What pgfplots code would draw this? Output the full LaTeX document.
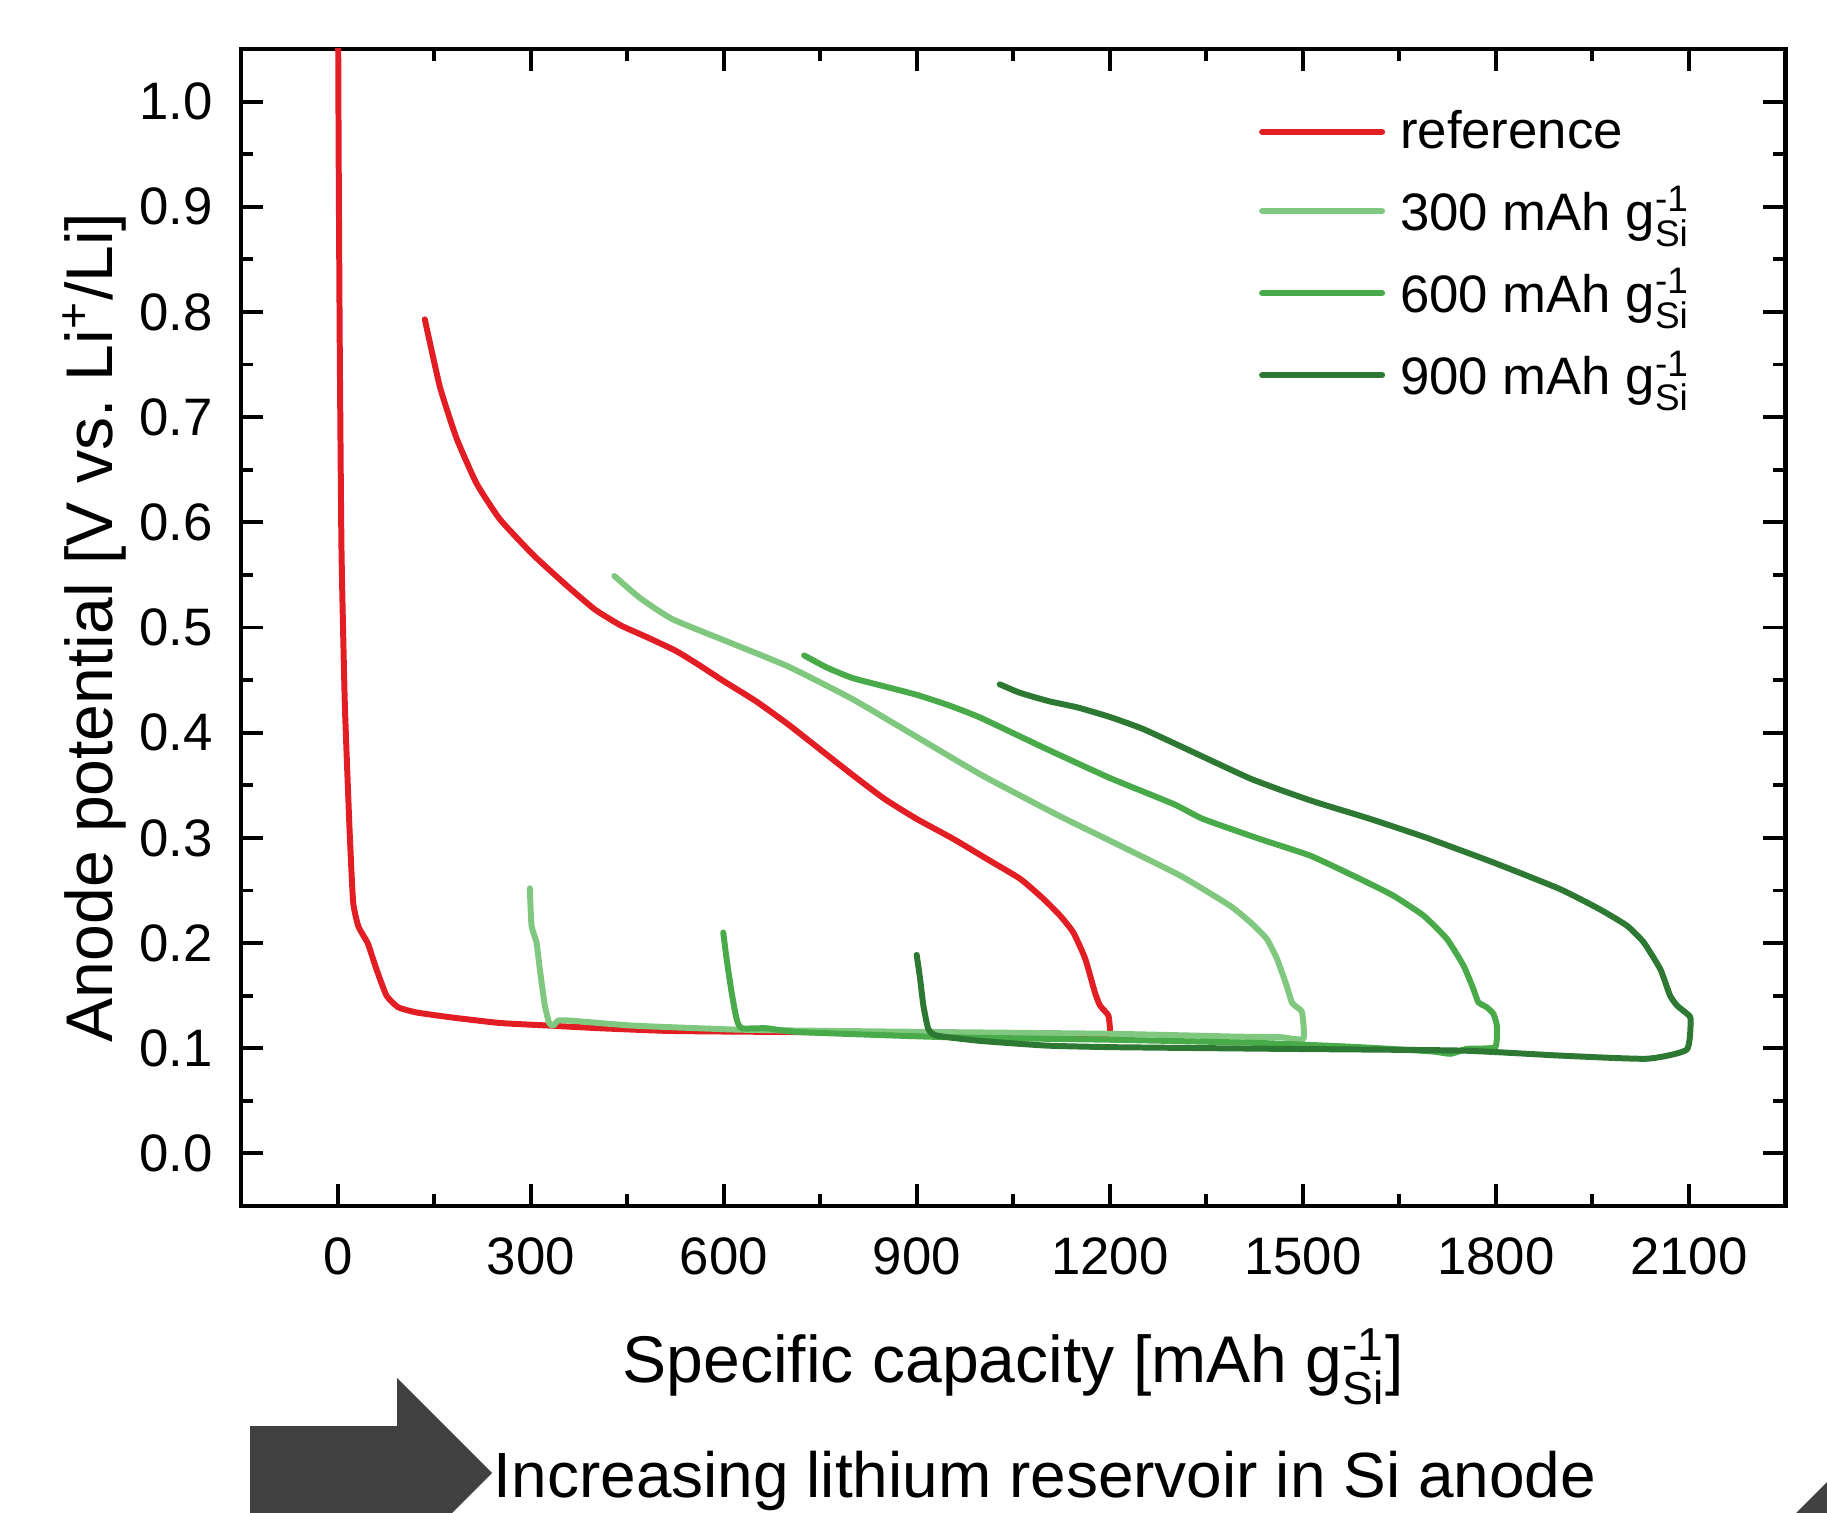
\documentclass[border=0pt]{standalone}
\usepackage{fontspec}
\setmainfont{Liberation Sans}
\usepackage{amsmath}
\usepackage{pgfplots}
\pgfplotsset{compat=1.18}

\definecolor{refred}{RGB}{226,30,36}
\definecolor{lgreen}{RGB}{128,200,128}
\definecolor{mgreen}{RGB}{72,170,72}
\definecolor{dgreen}{RGB}{45,120,50}
\definecolor{arrowgray}{RGB}{64,64,64}

\newcommand{\gsi}{g$^{\text{-1}}_{\text{Si}}$}

\begin{document}
\begin{tikzpicture}
\path[use as bounding box] (-2.412,-3.06) rectangle (15.858,12.06);
\clip (-2.412,-3.06) rectangle (15.858,12.06);

% arrow and caption below the plot
\fill[arrowgray] (0.09,-3.3) -- (0.09,-2.20) -- (1.56,-2.20) -- (1.56,-1.72)
  -- (2.51,-2.67) -- (1.56,-3.62) -- (1.56,-3.3) -- cycle;
\fill[arrowgray] (15.50,-3.12) -- (15.92,-2.70) -- (15.92,-3.12) -- cycle;
\node[anchor=base west, inner sep=0pt, font=\fontsize{18.2}{22}\selectfont]
  at (2.52,-2.91) {Increasing lithium reservoir in Si anode};

\begin{axis}[
  at={(0,0)}, anchor=south west,
  scale only axis,
  width=15.44cm, height=11.57cm,
  xmin=-150, xmax=2250,
  ymin=-0.05, ymax=1.05,
  xtick={0,300,...,2100},
  minor xtick={150,450,...,1950},
  ytick={0,0.1,...,1.0},
  minor ytick={0.05,0.15,...,0.95},
  tick align=inside,
  xtick pos=both, ytick pos=both,
  major tick length=0.22cm,
  minor tick length=0.12cm,
  every tick/.style={black, line width=1.1pt},
  axis line style={line width=1.3pt},
  scaled ticks=false,
  /pgf/number format/assume math mode=true,
  /pgf/number format/1000 sep={},
  tick label style={font=\fontsize{15}{18}\selectfont},
  xticklabel style={yshift=-0.19cm},
  yticklabel style={xshift=-0.16cm, /pgf/number format/fixed,
    /pgf/number format/fixed zerofill, /pgf/number format/precision=1},
  label style={font=\fontsize{18.8}{23}\selectfont},
  xlabel={Specific capacity [mAh \gsi]},
  ylabel={Anode potential [V vs.\ Li$^{\text{+}}$/Li]},
  xlabel style={at={(axis description cs:0.5,-0.139)}, anchor=center},
  ylabel style={at={(axis description cs:-0.095,0.5)}, anchor=center},
  legend cell align=left,
  legend style={draw=none, fill=none, at={(axis description cs:0.652,0.960)},
    anchor=north west, font=\fontsize{15}{18}\selectfont,
    row sep=0.19cm, column sep=0.08cm},
  legend image code/.code={\draw[#1] (0cm,0cm) -- (1.2cm,0cm);},
  every axis plot/.append style={line width=1.7pt, line cap=round,
    line join=round, smooth, tension=0.3},
]

\addplot[refred] table {
0.5 1.10
1.5 0.95
3.2 0.768
5.9 0.574
11 0.429
17 0.33
19 0.30
24 0.239
31.7 0.2165
40 0.207
47.3 0.199
60.3 0.175
75.9 0.150
93.9 0.139
122.5 0.134
174.3 0.1295
252 0.124
329.8 0.1215
407.6 0.119
511 0.1165
615 0.1158
750 0.1152
900 0.114
1000 0.112
1100 0.111
1195 0.110
1200.5 0.1153
1198 0.131
1185 0.1405
1177 0.153
1162 0.185
1143.5 0.210
1123 0.226
1097 0.242
1061 0.261
1009 0.280
957 0.299
900 0.318
850 0.337
800 0.360
750 0.384
700 0.408
650 0.430
600 0.449
560 0.465
525 0.478
480 0.491
440 0.502
400 0.517
355.8 0.540
303.9 0.569
252 0.603
215.8 0.637
184.7 0.680
158.8 0.729
135.4 0.793
};
\addlegendentry{reference}

\addplot[lgreen] table {
298.7 0.252
301.3 0.2165
309 0.2007
314.2 0.175
322 0.1405
328.7 0.124
335 0.1215
342.7 0.1263
360.9 0.1263
459.3 0.1215
615 0.1178
718.5 0.1168
947 0.1153
1206 0.1137
1400 0.111
1465 0.1105
1501 0.109
1499 0.134
1491 0.139
1483 0.1437
1475 0.1595
1460 0.185
1444 0.204
1420 0.219
1387 0.2355
1310 0.264
1206 0.2956
1118 0.322
1000 0.360
900 0.396
800 0.432
700 0.463
600 0.488
520 0.508
470 0.528
430 0.549
};
\addlegendentry{300 mAh \gsi}

\addplot[mgreen] table {
599.3 0.210
604.5 0.185
612.3 0.153
620 0.128
627.8 0.119
666.7 0.119
718.5 0.1153
947 0.1105
1206 0.108
1434 0.105
1589 0.101
1700 0.097
1730 0.0947
1755 0.0994
1799 0.101
1801.7 0.1215
1796.5 0.1326
1786 0.139
1773 0.1437
1765.5 0.156
1750 0.1785
1724 0.204
1688 0.226
1641 0.245
1589 0.261
1512 0.283
1434 0.2988
1345 0.318
1300 0.332
1200 0.357
1100 0.385
1000 0.414
950 0.426
900 0.436
850 0.444
800 0.452
760 0.462
725 0.4735
};
\addlegendentry{600 mAh \gsi}

\addplot[dgreen] table {
900 0.1887
905.3 0.166
910.4 0.1405
918 0.1184
931 0.112
998.5 0.107
1102 0.1025
1206 0.101
1465 0.0994
1745 0.0978
1900 0.093
2035 0.090
2097 0.0987
2103 0.128
2095 0.134
2082 0.1405
2071 0.150
2056 0.175
2030 0.2007
2004 0.2165
1962 0.232
1900 0.2513
1796 0.2767
1693 0.300
1605 0.318
1520 0.334
1468 0.345
1420 0.356
1377 0.368
1300 0.390
1250 0.404
1200 0.415
1150 0.424
1105 0.430
1060 0.438
1029 0.446
};
\addlegendentry{900 mAh \gsi}

\end{axis}
\end{tikzpicture}
\end{document}
